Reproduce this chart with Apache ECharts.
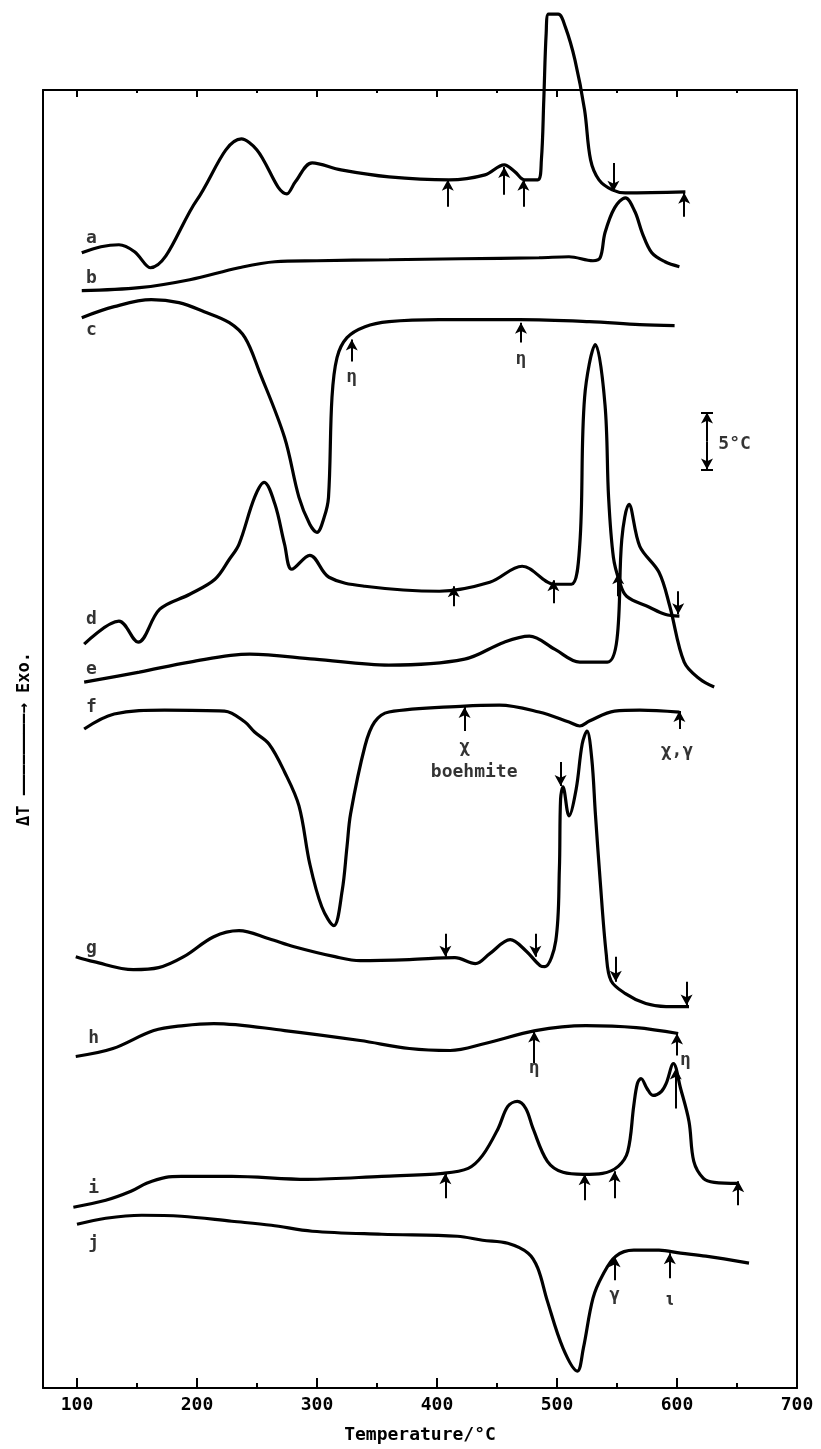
<!DOCTYPE html>
<html>
<head>
<meta charset="utf-8">
<script src="https://cdn.jsdelivr.net/npm/echarts@6/dist/echarts.min.js"></script>
<style>
html,body{margin:0;padding:0;background:#fff;}
#chart{width:821px;height:1449px;}
</style>
</head>
<body>
<div id="chart"></div>
<script>
// Temperature (°C) vs ΔT in arbitrary offset units (5 °C of ΔT ≈ 5.7 units)
const majorTicks = [100, 200, 300, 400, 500, 600, 700];
const minorTicks = [150, 250, 350, 450, 550, 650];

const curveA = [[104,115.5],[120,116.1],[135,116.3],[148,115.6],[161,114.0],[200,120.8],[237,126.9],[250,125.8],[275,121.4],[282,122.6],[296,124.5],[320,123.8],[360,123.1],[410,122.8],[440,123.3],[456,124.3],[465,123.6],[473,122.8],[484,122.8],[487,124.8],[489,130.8],[491,137.5],[493,139.4],[501,139.4],[507,138.1],[515,134.8],[523,129.8],[528,124.8],[535,122.8],[546,121.8],[557,121.5],[607,121.6]];
const curveB = [[104,111.7],[152,112.0],[194,112.8],[235,114.0],[265,114.6],[300,114.7],[360,114.8],[420,114.9],[485,115.0],[510,115.1],[530,114.7],[536,115.0],[540,117.5],[548,120.0],[557,121.0],[565,119.6],[571,117.5],[579,115.5],[590,114.6],[602,114.1]];
const curveC = [[104,109.0],[131,110.1],[162,110.8],[185,110.5],[206,109.6],[227,108.5],[240,107.0],[252,103.6],[273,97.0],[285,91.0],[294,88.3],[300,87.5],[306,89.0],[309.6,91.0],[312.5,101.0],[316.7,105.0],[325,107.0],[340,108.1],[360,108.6],[402,108.8],[469,108.8],[527,108.6],[569,108.3],[598,108.2]];
const curveD = [[106,76.3],[135,78.6],[151,76.5],[169,79.8],[194,81.3],[215,82.8],[227,84.8],[235,86.3],[248,91.0],[256,92.5],[265,90.3],[273,86.3],[279,83.8],[294,85.2],[310,83.0],[340,82.1],[402,81.6],[444,82.5],[471,84.1],[498,82.3],[512,82.3],[519,86.3],[523,101.0],[532,106.3],[540,100.3],[543,91.0],[547,85.0],[552,82.6],[558,81.1],[577,80.0],[590,79.3],[602,79.1]];
const curveE = [[106,72.5],[152,73.5],[194,74.5],[244,75.3],[298,74.8],[360,74.2],[423,74.8],[456,76.5],[477,77.1],[498,75.8],[519,74.5],[542,74.5],[550,76.8],[554,86.8],[560,90.3],[569,86.1],[585,83.5],[594,80.1],[606,74.5],[619,72.8],[631,72.0]];
const curveF = [[106,67.8],[131,69.3],[173,69.7],[223,69.6],[240,68.5],[248,67.5],[260,66.3],[273,63.5],[285,60.1],[294,54.3],[304,50.0],[314,48.1],[321,51.6],[325,56.0],[328,59.3],[340,66.1],[348,68.5],[360,69.5],[423,70.1],[452,70.2],[485,69.5],[510,68.5],[519,68.1],[527,68.6],[548,69.6],[569,69.7],[602,69.5]];
const curveG = [[99,45.0],[114,44.5],[147,43.7],[168,43.9],[189,45.0],[214,47.0],[235,47.6],[260,46.8],[281,46.0],[315,45.0],[336,44.6],[377,44.7],[415,44.9],[432,44.3],[444,45.3],[461,46.7],[474,45.6],[486,44.1],[490,44.0],[499,46.6],[502,53.8],[503,60.8],[505,62.0],[510,59.1],[516,61.8],[521,66.3],[525,67.6],[529,64.8],[532,59.3],[536,52.6],[541,45.3],[545,42.6],[557,41.3],[574,40.3],[591,40.0],[610,40.0]];
const curveH = [[99,35.0],[130,35.8],[164,37.6],[189,38.1],[214,38.3],[273,37.6],[336,36.6],[377,35.8],[411,35.6],[440,36.3],[482,37.6],[524,38.1],[566,37.9],[601,37.3]];
const curveI = [[97,19.9],[124,20.6],[145,21.5],[158,22.3],[174,22.9],[187,23.0],[229,23.0],[292,22.7],[354,23.0],[405,23.3],[426,23.8],[438,25.1],[451,27.8],[459,30.0],[467,30.5],[474,29.8],[480,27.8],[492,24.5],[505,23.4],[522,23.2],[538,23.3],[551,24.0],[559,25.5],[564,30.1],[567,32.3],[570,32.8],[575,31.8],[580,31.1],[587,31.5],[591,32.3],[597,34.3],[603,31.8],[610,28.5],[614,24.5],[622,22.8],[631,22.4],[651,22.3]];
const curveJ = [[100,18.2],[124,18.8],[154,19.1],[187,19.0],[229,18.5],[262,18.1],[296,17.5],[354,17.2],[417,17.0],[438,16.6],[459,16.3],[476,15.3],[484,13.8],[492,10.5],[505,5.8],[517,3.5],[522,5.8],[530,10.8],[538,13.1],[549,15.0],[564,15.6],[585,15.6],[603,15.3],[624,15.0],[660,14.3]];

// arrows: [temperature, tail ΔT, head ΔT]
const arrows = [
  [409,120.1,122.8],[456,121.3,124.1],[472,120.1,122.8],[547,124.5,121.6],[606,119.1,121.5],
  [329,104.6,106.8],[470,106.5,108.5],
  [414,80.1,82.1],[497,80.4,82.7],[551,81.1,83.4],[601,81.6,79.3],
  [423,67.6,70.0],[602,67.8,69.6],
  [503,64.5,62.1],[407,47.3,45.0],[482,47.3,45.0],[549,45.0,42.5],[608,42.5,40.1],
  [481,34.3,37.5],[600,35.1,37.3],
  [407,20.8,23.3],[523,20.6,23.2],[548,20.8,23.5],[651,20.1,22.5],[599,29.8,33.8],
  [548,12.6,15.0],[594,12.8,15.3],
  [625,96.6,99.5],[625,96.6,93.8]
];
// plain marks: [temperature, from ΔT, to ΔT]
const ticksMarks = [[497,138.8,136.6]];
// scale-bar end caps: [from T, to T, ΔT]
const caps = [[620,630,99.5],[620,630,93.8]];

// text: [temperature, ΔT, text]
const texts = [
  [112,116.9,'a'],[112,112.9,'b'],[112,107.7,'c'],[112,78.8,'d'],[112,73.8,'e'],
  [112,70.0,'f'],[112,45.8,'g'],[114,36.8,'h'],[114,21.8,'i'],[114,16.3,'j'],
  [329,103.0,'η'],[470,104.8,'η'],
  [423,66.0,'χ'],[431,63.5,'boehmite'],[600,65.6,'χ,γ'],
  [481,33.8,'η'],[607,34.6,'η'],
  [548,11.1,'γ'],[594,10.6,'ι'],
  [648,96.3,'5°C']
];

const FONT = 'DejaVu Sans Mono';
const chart = echarts.init(document.getElementById('chart'), null, {renderer:'canvas'});

function curve(name, data){
  return {name:name, type:'line', data:data, symbol:'none', smooth:0.35,
    clip:false, lineStyle:{color:'#000', width:3.2}, silent:true, z:3};
}

const markLineData = [];
arrows.forEach(function(a){
  markLineData.push([{coord:[a[0],a[1]], symbol:'none'},{coord:[a[0],a[2]], symbol:'arrow'}]);
});
ticksMarks.forEach(function(a){
  markLineData.push([{coord:[a[0],a[1]], symbol:'none'},{coord:[a[0],a[2]], symbol:'none'}]);
});
caps.forEach(function(c){
  markLineData.push([{coord:[c[0],c[2]], symbol:'none'},{coord:[c[1],c[2]], symbol:'none'}]);
});

const xBase = {type:'value', min:71.7, max:700, splitLine:{show:false}};
const option = {
  animation:false,
  backgroundColor:'#fff',
  grid:{left:43, right:24, top:90, bottom:59},
  xAxis:[
    Object.assign({}, xBase, {position:'bottom',
      name:'Temperature/°C', nameLocation:'middle', nameGap:38,
      nameTextStyle:{fontFamily:FONT, fontSize:18, fontWeight:'bold', color:'#000'},
      axisLine:{show:true, onZero:false, lineStyle:{color:'#000', width:2}},
      axisTick:{show:true, inside:true, length:10, customValues:majorTicks, lineStyle:{color:'#000', width:2}},
      axisLabel:{show:true, customValues:majorTicks, margin:8, fontFamily:FONT, fontSize:18, fontWeight:'bold', color:'#000'}}),
    Object.assign({}, xBase, {position:'bottom',
      axisLine:{show:false},
      axisTick:{show:true, inside:true, length:5, customValues:minorTicks, lineStyle:{color:'#000', width:2}},
      axisLabel:{show:false}}),
    Object.assign({}, xBase, {position:'top',
      axisLine:{show:true, onZero:false, lineStyle:{color:'#000', width:2}},
      axisTick:{show:true, inside:true, length:7, customValues:majorTicks, lineStyle:{color:'#000', width:2}},
      axisLabel:{show:false}}),
    Object.assign({}, xBase, {position:'top',
      axisLine:{show:false},
      axisTick:{show:true, inside:true, length:3, customValues:minorTicks, lineStyle:{color:'#000', width:2}},
      axisLabel:{show:false}})
  ],
  yAxis:[
    {type:'value', min:1.8, max:131.8, position:'left',
      name:'ΔT ————————→ Exo.', nameLocation:'middle', nameGap:10, nameRotate:90,
      nameTextStyle:{fontFamily:FONT, fontSize:17, fontWeight:'bold', color:'#000'},
      axisLine:{show:true, onZero:false, lineStyle:{color:'#000', width:2}},
      axisTick:{show:false}, axisLabel:{show:false}, splitLine:{show:false}},
    {type:'value', min:1.8, max:131.8, position:'right',
      axisLine:{show:true, onZero:false, lineStyle:{color:'#000', width:2}},
      axisTick:{show:false}, axisLabel:{show:false}, splitLine:{show:false}}
  ],
  series:[
    curve('a', curveA), curve('b', curveB), curve('c', curveC), curve('d', curveD),
    curve('e', curveE), curve('f', curveF), curve('g', curveG), curve('h', curveH),
    curve('i', curveI), curve('j', curveJ),
    {type:'line', data:[], silent:true,
      markLine:{silent:true, animation:false, symbolSize:[9,11], label:{show:false},
        lineStyle:{color:'#000', width:2, type:'solid'}, emphasis:{disabled:true},
        data:markLineData}},
    {type:'scatter', symbolSize:0, silent:true, z:5,
      data:texts.map(function(t){return {value:[t[0], t[1]], name:t[2]};}),
      label:{show:true, position:'inside', formatter:function(p){return p.name;},
        fontFamily:FONT, fontSize:18, fontWeight:'bold', color:'#000'}}
  ]
};
chart.setOption(option);
</script>
</body>
</html>
